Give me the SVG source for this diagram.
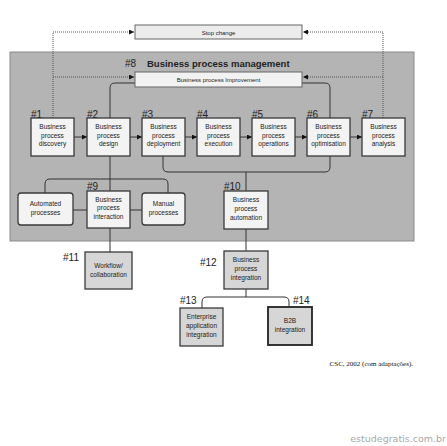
<svg xmlns="http://www.w3.org/2000/svg" width="447" height="446" viewBox="0 0 447 446">
<defs>
<style>
.bx{fill:#f3f3f3;stroke:#3a3a3a;stroke-width:1.3}
.bg{fill:#d6d6d6;stroke:#3a3a3a;stroke-width:1.3}
.t{font-family:"Liberation Sans",Arial,sans-serif;font-size:6.5px;fill:#1a1a1a;text-anchor:middle}
.n{font-family:"Liberation Sans",Arial,sans-serif;font-size:10px;fill:#222}
.c{fill:none;stroke:#333;stroke-width:1}
.d{fill:none;stroke:#555;stroke-width:1;stroke-dasharray:1 1}
</style>
<marker id="ah" viewBox="0 0 6 6" refX="6" refY="3" markerWidth="5" markerHeight="5" orient="auto" markerUnits="userSpaceOnUse">
<path d="M0,0 L6,3 L0,6 Z" fill="#111"/>
</marker>
</defs>
<rect width="447" height="446" fill="#ffffff"/>
<rect x="10" y="52" width="404" height="189" fill="#b4b4b4" stroke="#8a8a8a" stroke-width="1"/>
<text x="125" y="67" class="n">#8</text>
<text x="147" y="67" style="font-family:'Liberation Sans',Arial,sans-serif;font-size:9.5px;font-weight:bold;fill:#222">Business process management</text>

<g id="connectors">
<path class="d" d="M53,118 V32 H134" marker-end="url(#ah)"/>
<path class="d" d="M383,118 V32 H303" marker-end="url(#ah)"/>
<path class="d" d="M53,77 H134" marker-end="url(#ah)"/>
<path class="d" d="M383,77 H303" marker-end="url(#ah)"/>
<path class="c" d="M135,83 H115 Q110,83 110,88 V118"/>
<path class="c" d="M302,83 H325 Q330,83 330,88 V118"/>
<path class="c" d="M74,137 H87" marker-end="url(#ah)"/>
<path class="c" d="M130,137 H142" marker-end="url(#ah)"/>
<path class="c" d="M185,137 H197" marker-end="url(#ah)"/>
<path class="c" d="M240,137 H252" marker-end="url(#ah)"/>
<path class="c" d="M295,137 H307" marker-end="url(#ah)"/>
<path class="c" d="M350,137 H362" marker-end="url(#ah)"/>
<path class="c" d="M163,156 V167 Q163,172 168,172 H325 Q330,172 330,167 V156"/>
<path class="c" d="M246,172 V191"/>
<path class="c" d="M110,156 V191"/>
<path class="c" d="M45,193 V184 Q45,179 50,179 H163 Q168,179 168,184 V193"/>
<path class="c" d="M73,210 H87 M130,210 H142"/>
<path class="c" d="M110,228 V252"/>
<path class="c" d="M246,229 V251"/>
<path class="c" d="M246,289 V297 M202,308 V302 Q202,297 207,297 H284 Q289,297 289,302 V307"/>
</g>

<g id="stop-change">
<rect x="135" y="25" width="167" height="14" class="bx" style="fill:#ececec;stroke:#666;stroke-width:1"/>
<text x="218.5" y="34.5" class="t" style="font-size:6px">Stop change</text>
</g>
<g id="bp-improvement">
<rect x="135" y="72" width="167" height="15" class="bx" style="fill:#f2f2f2;stroke:#666;stroke-width:1"/>
<text x="218.5" y="81.5" class="t" style="font-size:6px">Business process Improvement</text>
</g>

<g id="n1"><text x="31" y="118" class="n">#1</text><rect x="31" y="118" width="43" height="38" class="bx"/>
<text class="t" x="52.5" y="129">Business</text><text class="t" x="52.5" y="137.5">process</text><text class="t" x="52.5" y="146">discovery</text></g>
<g id="n2"><text x="87" y="118" class="n">#2</text><rect x="87" y="118" width="43" height="38" class="bx"/>
<text class="t" x="108.5" y="129">Business</text><text class="t" x="108.5" y="137.5">process</text><text class="t" x="108.5" y="146">design</text></g>
<g id="n3"><text x="142" y="118" class="n">#3</text><rect x="142" y="118" width="43" height="38" class="bx"/>
<text class="t" x="163.5" y="129">Business</text><text class="t" x="163.5" y="137.5">process</text><text class="t" x="163.5" y="146">deployment</text></g>
<g id="n4"><text x="197" y="118" class="n">#4</text><rect x="197" y="118" width="43" height="38" class="bx"/>
<text class="t" x="218.5" y="129">Business</text><text class="t" x="218.5" y="137.5">process</text><text class="t" x="218.5" y="146">execution</text></g>
<g id="n5"><text x="252" y="118" class="n">#5</text><rect x="252" y="118" width="43" height="38" class="bx"/>
<text class="t" x="273.5" y="129">Business</text><text class="t" x="273.5" y="137.5">process</text><text class="t" x="273.5" y="146">operations</text></g>
<g id="n6"><text x="307" y="118" class="n">#6</text><rect x="307" y="118" width="43" height="38" class="bx"/>
<text class="t" x="328.5" y="129">Business</text><text class="t" x="328.5" y="137.5">process</text><text class="t" x="328.5" y="146">optimisation</text></g>
<g id="n7"><text x="362" y="118" class="n">#7</text><rect x="362" y="118" width="43" height="38" class="bx"/>
<text class="t" x="383.5" y="129">Business</text><text class="t" x="383.5" y="137.5">process</text><text class="t" x="383.5" y="146">analysis</text></g>

<g id="automated"><rect x="18" y="193" width="55" height="32" rx="3" class="bx"/>
<text class="t" x="45.5" y="206">Automated</text><text class="t" x="45.5" y="214.5">processes</text></g>
<g id="n9"><text x="87" y="190" class="n">#9</text><rect x="87" y="191" width="43" height="37" class="bx"/>
<text class="t" x="108.5" y="201.5">Business</text><text class="t" x="108.5" y="210">process</text><text class="t" x="108.5" y="219">interaction</text></g>
<g id="manual"><rect x="142" y="193" width="43" height="32" rx="3" class="bx"/>
<text class="t" x="163.5" y="206">Manual</text><text class="t" x="163.5" y="214.5">processes</text></g>
<g id="n10"><text x="224" y="190" class="n">#10</text><rect x="224" y="191" width="44" height="38" class="bx"/>
<text class="t" x="246" y="202">Business</text><text class="t" x="246" y="210.5">process</text><text class="t" x="246" y="219.5">automation</text></g>

<g id="n11"><text x="63" y="261" class="n">#11</text><rect x="85" y="252" width="47" height="37" class="bg"/>
<text class="t" x="108.5" y="268">Workflow/</text><text class="t" x="108.5" y="276.5">collaboration</text></g>
<g id="n12"><text x="200" y="266" class="n">#12</text><rect x="224" y="251" width="44" height="38" class="bg"/>
<text class="t" x="246" y="262">Business</text><text class="t" x="246" y="270.5">process</text><text class="t" x="246" y="279.5">integration</text></g>
<g id="n13"><text x="180" y="304" class="n">#13</text><rect x="180" y="308" width="43" height="38" class="bg"/>
<text class="t" x="201.5" y="319">Enterprise</text><text class="t" x="201.5" y="327.5">application</text><text class="t" x="201.5" y="336.5">integration</text></g>
<g id="n14"><text x="293" y="304" class="n">#14</text><rect x="268" y="307" width="44" height="38" class="bg" style="stroke-width:1.8;stroke:#222"/>
<text class="t" x="290" y="323">B2B</text><text class="t" x="290" y="331.5">integration</text></g>

<text x="413" y="366" style="font-family:'Liberation Serif','Times New Roman',serif;font-size:7px;fill:#111;text-anchor:end">CSC, 2002 (com adaptações).</text>
<text x="446" y="442" style="font-family:'DejaVu Sans',sans-serif;font-size:9.5px;fill:#a8a8a8;text-anchor:end">estudegratis.com.br</text>
</svg>
